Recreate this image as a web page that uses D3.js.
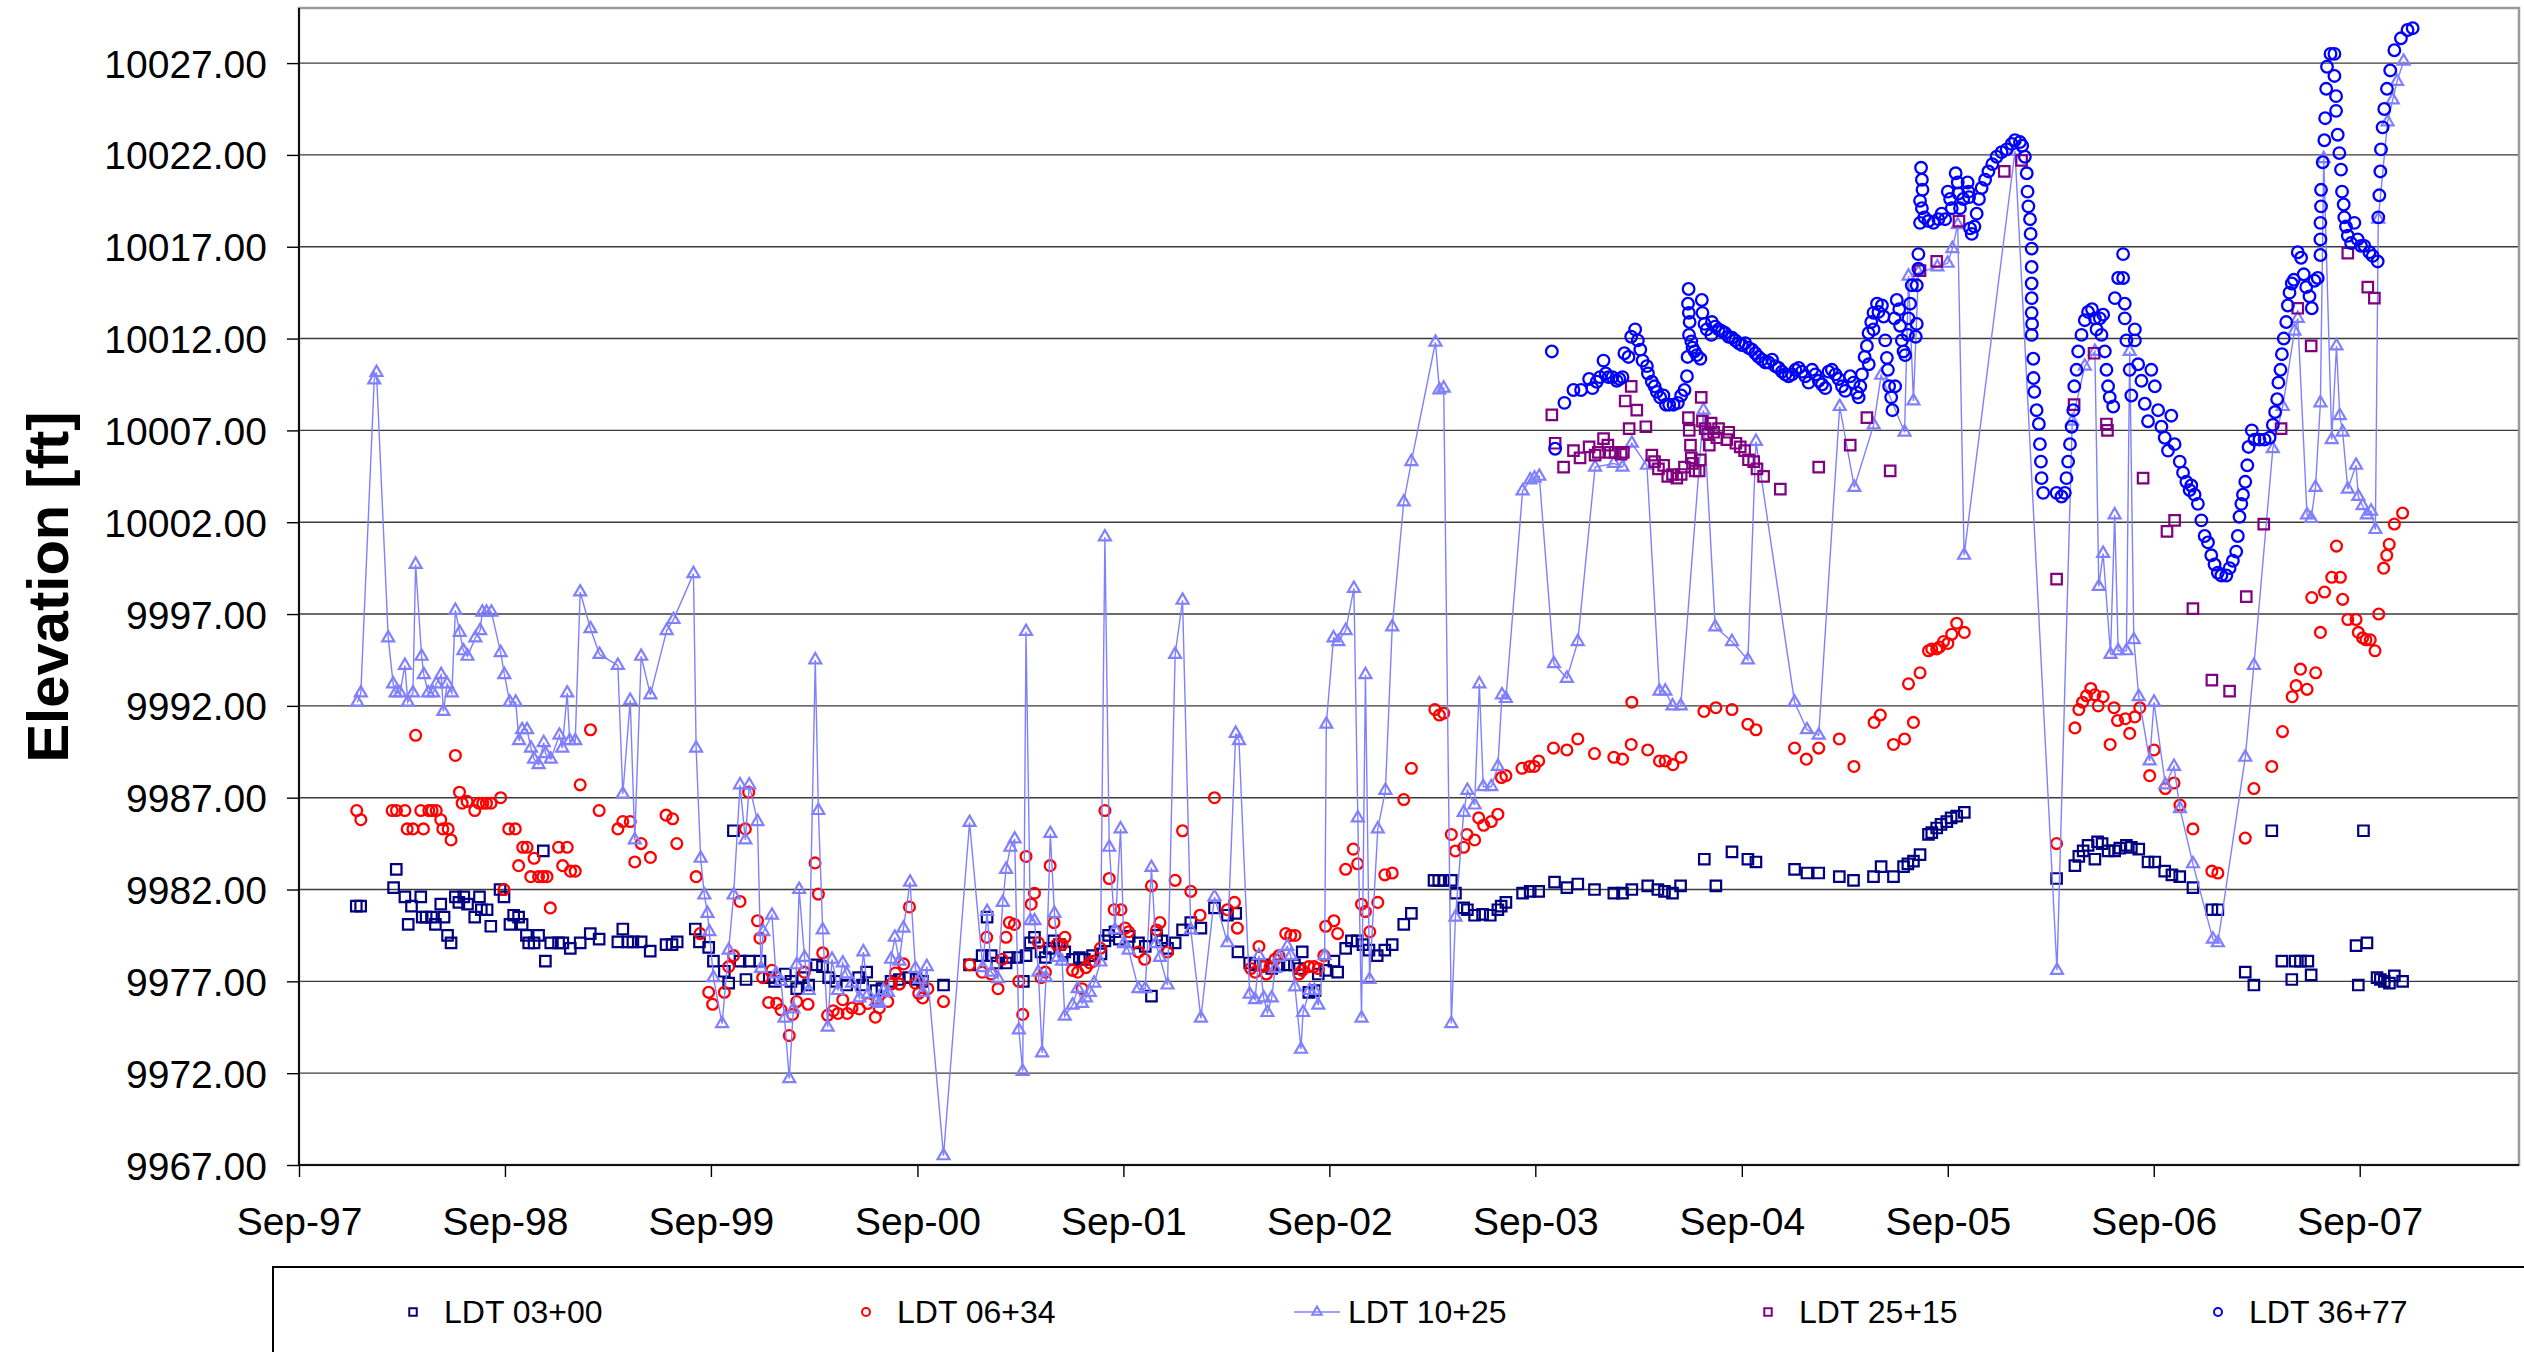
<!DOCTYPE html>
<html>
<head>
<meta charset="utf-8">
<script src="https://cdn.jsdelivr.net/npm/d3@7"></script>
<style>
  html, body { margin: 0; padding: 0; background: #ffffff; }
  svg { display: block; }
  text { font-family: "Liberation Sans", Arial, Helvetica, sans-serif; }
</style>
</head>
<body>
<svg id="chart" width="2524" height="1352"></svg>
<script>
// Water level elevations per piezometer, [decimal year, elevation in ft]

const ldt0300 = [
  [1997.944,9981.1],[1997.965,9981.1],[1998.125,9982.1],[1998.138,9983.1],[1998.18,9981.6],[1998.196,9980.1],
  [1998.212,9981.1],[1998.257,9981.6],[1998.264,9980.5],[1998.283,9980.5],[1998.309,9980.5],[1998.328,9980.1],
  [1998.354,9981.2],[1998.37,9980.5],[1998.387,9979.5],[1998.404,9979.1],[1998.425,9981.6],[1998.442,9981.3],
  [1998.466,9981.6],[1998.484,9981.2],[1998.519,9980.5],[1998.542,9981.6],[1998.551,9980.9],[1998.579,9980.9],
  [1998.597,9980.0],[1998.642,9982.0],[1998.661,9981.6],[1998.69,9980.1],[1998.708,9980.6],[1998.732,9980.5],
  [1998.749,9980.1],[1998.77,9979.5],[1998.781,9979.1],[1998.807,9979.1],[1998.829,9979.5],[1998.852,9984.1],
  [1998.862,9978.1],[1998.888,9979.1],[1998.926,9979.1],[1998.947,9979.1],[1998.983,9978.8],[1999.031,9979.1],
  [1999.08,9979.6],[1999.123,9979.3],[1999.214,9979.15],[1999.238,9979.85],[1999.262,9979.15],[1999.287,9979.15],
  [1999.327,9979.15],[1999.371,9978.65],[1999.448,9979.0],[1999.477,9979.0],[1999.502,9979.15],[1999.59,9979.85],
  [1999.61,9979.15],[1999.655,9978.85],[1999.678,9978.1],[1999.731,9977.55],[1999.752,9976.9],[1999.775,9985.2],
  [1999.807,9978.1],[1999.836,9977.1],[1999.852,9978.1],[1999.904,9978.1],[1999.949,9977.2],[1999.975,9977.0],
  [2000.027,9977.4],[2000.054,9977.0],[2000.082,9976.6],[2000.111,9977.2],[2000.14,9976.8],[2000.178,9977.9],
  [2000.207,9977.8],[2000.237,9977.2],[2000.272,9977.0],[2000.324,9976.8],[2000.382,9977.2],[2000.401,9976.8],
  [2000.421,9977.5],[2000.466,9976.5],[2000.495,9976.6],[2000.539,9977.0],[2000.579,9977.1],[2000.624,9977.2],
  [2000.66,9977.1],[2000.692,9977.0],[2000.793,9976.8],[2000.919,9977.9],[2000.98,9978.4],[2001.004,9980.5],
  [2001.024,9978.4],[2001.051,9978.0],[2001.096,9978.0],[2001.112,9978.3],[2001.153,9978.3],[2001.18,9977.0],
  [2001.193,9978.4],[2001.213,9979.1],[2001.234,9979.4],[2001.266,9978.6],[2001.287,9978.3],[2001.306,9978.8],
  [2001.327,9979.2],[2001.355,9979.0],[2001.381,9978.6],[2001.419,9978.2],[2001.452,9978.3],[2001.476,9978.2],
  [2001.516,9978.4],[2001.557,9978.5],[2001.576,9979.2],[2001.594,9979.5],[2001.625,9979.7],[2001.646,9979.3],
  [2001.694,9979.45],[2001.739,9979.1],[2001.772,9978.9],[2001.802,9976.2],[2001.827,9979.5],[2001.852,9979.2],
  [2001.88,9978.8],[2001.917,9979.1],[2001.953,9979.8],[2001.993,9980.2],[2002.042,9979.9],[2002.108,9981.0],
  [2002.171,9980.6],[2002.211,9980.7],[2002.222,9978.6],[2002.279,9978.0],[2002.305,9977.9],[2002.344,9977.9],
  [2002.386,9977.7],[2002.421,9977.9],[2002.462,9977.9],[2002.496,9977.9],[2002.521,9977.7],[2002.534,9978.6],
  [2002.566,9976.4],[2002.596,9976.5],[2002.612,9977.4],[2002.648,9977.6],[2002.688,9978.1],[2002.706,9977.5],
  [2002.745,9978.8],[2002.773,9979.2],[2002.801,9979.2],[2002.829,9979.0],[2002.858,9978.7],[2002.898,9978.4],
  [2002.935,9978.7],[2002.971,9979.0],[2003.027,9980.1],[2003.064,9980.7],[2003.174,9982.5],[2003.197,9982.5],
  [2003.221,9982.5],[2003.258,9982.5],[2003.278,9981.8],[2003.318,9981.0],[2003.336,9980.9],[2003.371,9980.6],
  [2003.41,9980.65],[2003.447,9980.6],[2003.484,9980.9],[2003.5,9981.1],[2003.523,9981.3],[2003.604,9981.8],
  [2003.641,9981.9],[2003.682,9981.9],[2003.759,9982.4],[2003.819,9982.1],[2003.872,9982.3],[2003.953,9982.0],
  [2004.047,9981.8],[2004.089,9981.8],[2004.134,9982.0],[2004.211,9982.2],[2004.26,9982.0],[2004.292,9981.9],
  [2004.331,9981.8],[2004.37,9982.2],[2004.485,9983.65],[2004.541,9982.2],[2004.619,9984.05],[2004.696,9983.65],
  [2004.735,9983.5],[2004.922,9983.1],[2004.982,9982.9],[2005.039,9982.9],[2005.139,9982.7],[2005.208,9982.5],
  [2005.305,9982.7],[2005.342,9983.25],[2005.402,9982.7],[2005.451,9983.25],[2005.472,9983.4],[2005.499,9983.55],
  [2005.531,9983.9],[2005.572,9985.0],[2005.588,9985.1],[2005.612,9985.35],[2005.633,9985.55],[2005.661,9985.7],
  [2005.682,9985.9],[2005.709,9986.0],[2005.746,9986.2],[2006.194,9982.6],[2006.283,9983.3],[2006.302,9983.8],
  [2006.323,9984.1],[2006.347,9984.4],[2006.38,9983.65],[2006.393,9984.6],[2006.415,9984.5],[2006.444,9984.1],
  [2006.476,9984.1],[2006.501,9984.25],[2006.533,9984.4],[2006.557,9984.3],[2006.593,9984.2],[2006.638,9983.5],
  [2006.671,9983.5],[2006.719,9983.0],[2006.754,9982.8],[2006.792,9982.7],[2006.856,9982.1],[2006.948,9980.9],
  [2006.977,9980.9],[2007.11,9977.5],[2007.152,9976.8],[2007.239,9985.2],[2007.288,9978.1],[2007.336,9977.1],
  [2007.352,9978.1],[2007.378,9978.1],[2007.414,9978.1],[2007.43,9977.35],[2007.648,9978.95],[2007.659,9976.8],
  [2007.684,9985.2],[2007.701,9979.1],[2007.75,9977.2],[2007.766,9977.1],[2007.785,9977.0],[2007.81,9976.9],
  [2007.834,9977.3],[2007.874,9977.0]
];

const ldt0634 = [
  [1997.946,9986.3],[1997.966,9985.8],[1998.118,9986.3],[1998.139,9986.3],[1998.18,9986.3],[1998.191,9985.3],
  [1998.219,9985.3],[1998.232,9990.4],[1998.257,9986.3],[1998.27,9985.3],[1998.296,9986.3],[1998.312,9986.3],
  [1998.332,9986.3],[1998.354,9985.8],[1998.364,9985.3],[1998.39,9985.3],[1998.404,9984.7],[1998.425,9989.3],
  [1998.445,9987.3],[1998.458,9986.7],[1998.482,9986.8],[1998.519,9986.3],[1998.539,9986.7],[1998.558,9986.7],
  [1998.576,9986.7],[1998.598,9986.7],[1998.645,9987.0],[1998.661,9982.0],[1998.684,9985.3],[1998.716,9985.3],
  [1998.732,9983.3],[1998.752,9984.3],[1998.773,9984.3],[1998.791,9982.7],[1998.807,9983.7],[1998.829,9982.7],
  [1998.85,9982.7],[1998.87,9982.7],[1998.886,9981.0],[1998.926,9984.3],[1998.946,9983.3],[1998.968,9984.3],
  [1998.984,9983.0],[1999.007,9983.0],[1999.031,9987.7],[1999.081,9990.7],[1999.123,9986.3],[1999.214,9985.3],
  [1999.238,9985.7],[1999.274,9985.7],[1999.296,9983.5],[1999.327,9984.5],[1999.372,9983.75],[1999.448,9986.05],
  [1999.48,9985.85],[1999.5,9984.5],[1999.594,9982.7],[1999.613,9979.6],[1999.655,9976.4],[1999.674,9975.75],
  [1999.731,9976.4],[1999.752,9977.8],[1999.776,9978.4],[1999.807,9981.35],[1999.833,9985.3],[1999.849,9987.3],
  [1999.892,9980.3],[1999.904,9979.35],[1999.917,9977.2],[1999.946,9975.85],[1999.962,9977.6],[1999.985,9975.8],
  [2000.006,9975.45],[2000.046,9974.05],[2000.062,9975.2],[2000.082,9975.9],[2000.119,9977.5],[2000.137,9975.75],
  [2000.171,9983.45],[2000.187,9981.75],[2000.208,9978.55],[2000.232,9975.15],[2000.259,9975.4],[2000.282,9975.25],
  [2000.305,9976.0],[2000.327,9975.25],[2000.35,9975.55],[2000.386,9975.5],[2000.426,9975.8],[2000.463,9975.05],
  [2000.482,9975.55],[2000.523,9975.9],[2000.539,9976.85],[2000.56,9977.45],[2000.579,9976.85],[2000.6,9977.95],
  [2000.628,9981.05],[2000.657,9976.9],[2000.673,9976.35],[2000.692,9976.1],[2000.717,9976.6],[2000.793,9975.9],
  [2000.919,9977.9],[2000.98,9977.5],[2001.002,9979.4],[2001.024,9977.4],[2001.057,9976.6],[2001.077,9978.2],
  [2001.096,9979.4],[2001.112,9980.2],[2001.137,9980.1],[2001.158,9977.0],[2001.177,9975.2],[2001.193,9983.8],
  [2001.218,9981.2],[2001.234,9981.8],[2001.253,9979.1],[2001.266,9977.2],[2001.287,9977.5],[2001.31,9983.3],
  [2001.329,9980.2],[2001.342,9979.0],[2001.368,9979.0],[2001.382,9979.4],[2001.419,9977.6],[2001.444,9977.5],
  [2001.465,9976.6],[2001.484,9977.75],[2001.503,9978.0],[2001.521,9978.1],[2001.554,9978.8],[2001.576,9986.3],
  [2001.597,9982.6],[2001.621,9980.9],[2001.654,9980.9],[2001.675,9979.9],[2001.691,9979.7],[2001.739,9978.6],
  [2001.769,9978.2],[2001.802,9982.2],[2001.827,9979.8],[2001.843,9980.2],[2001.88,9978.6],[2001.917,9982.5],
  [2001.953,9985.2],[2001.993,9981.9],[2002.038,9980.6],[2002.108,9987.0],[2002.171,9980.9],[2002.205,9981.3],
  [2002.219,9979.9],[2002.284,9977.7],[2002.305,9977.5],[2002.324,9978.9],[2002.344,9977.8],[2002.36,9977.4],
  [2002.378,9977.8],[2002.402,9978.2],[2002.421,9978.4],[2002.454,9979.6],[2002.478,9979.5],[2002.499,9979.5],
  [2002.518,9977.4],[2002.534,9977.6],[2002.566,9977.8],[2002.591,9977.8],[2002.612,9977.7],[2002.639,9978.4],
  [2002.648,9980.0],[2002.688,9980.3],[2002.706,9979.6],[2002.745,9983.1],[2002.782,9984.2],[2002.803,9983.4],
  [2002.822,9981.2],[2002.841,9980.8],[2002.862,9979.7],[2002.901,9981.3],[2002.935,9982.8],[2002.971,9982.9],
  [2003.027,9986.9],[2003.064,9988.6],[2003.178,9991.8],[2003.2,9991.5],[2003.221,9991.6],[2003.258,9985.0],
  [2003.278,9984.1],[2003.318,9984.3],[2003.334,9985.0],[2003.371,9984.7],[2003.391,9985.9],[2003.415,9985.5],
  [2003.452,9985.7],[2003.484,9986.1],[2003.501,9988.1],[2003.523,9988.2],[2003.601,9988.6],[2003.638,9988.7],
  [2003.661,9988.7],[2003.682,9989.0],[2003.754,9989.7],[2003.819,9989.6],[2003.872,9990.2],[2003.953,9989.4],
  [2004.047,9989.2],[2004.089,9989.1],[2004.131,9989.9],[2004.134,9992.2],[2004.211,9989.6],[2004.268,9989.0],
  [2004.296,9989.0],[2004.333,9988.8],[2004.372,9989.2],[2004.483,9991.7],[2004.541,9991.9],[2004.619,9991.8],
  [2004.696,9991.0],[2004.735,9990.7],[2004.922,9989.7],[2004.979,9989.1],[2005.039,9989.7],[2005.139,9990.2],
  [2005.21,9988.7],[2005.308,9991.1],[2005.338,9991.5],[2005.402,9989.9],[2005.456,9990.2],[2005.475,9993.2],
  [2005.499,9991.1],[2005.531,9993.8],[2005.572,9995.0],[2005.588,9995.1],[2005.612,9995.1],[2005.625,9995.2],
  [2005.645,9995.5],[2005.666,9995.4],[2005.685,9995.9],[2005.709,9996.5],[2005.746,9996.0],[2006.194,9984.5],
  [2006.283,9990.8],[2006.302,9991.8],[2006.32,9992.2],[2006.339,9992.55],[2006.36,9992.95],[2006.38,9992.6],
  [2006.396,9992.0],[2006.42,9992.5],[2006.454,9989.9],[2006.473,9991.9],[2006.49,9991.2],[2006.528,9991.3],
  [2006.549,9990.5],[2006.574,9991.4],[2006.598,9991.9],[2006.646,9988.2],[2006.667,9989.6],[2006.722,9987.5],
  [2006.764,9987.8],[2006.793,9986.6],[2006.856,9985.3],[2006.948,9983.0],[2006.977,9982.9],[2007.11,9984.8],
  [2007.152,9987.5],[2007.239,9988.7],[2007.291,9990.6],[2007.338,9992.5],[2007.357,9993.1],[2007.378,9994.0],
  [2007.41,9992.9],[2007.433,9997.9],[2007.452,9993.8],[2007.475,9996.0],[2007.495,9998.2],[2007.53,9999.0],
  [2007.553,10000.7],[2007.572,9999.0],[2007.583,9997.8],[2007.608,9996.7],[2007.648,9996.7],[2007.659,9996.0],
  [2007.68,9995.7],[2007.696,9995.6],[2007.717,9995.6],[2007.74,9995.0],[2007.758,9997.0],[2007.782,9999.5],
  [2007.797,10000.2],[2007.809,10000.8],[2007.834,10001.9],[2007.874,10002.5]
];

const ldt1025 = [
  [1997.949,9992.2],[1997.966,9992.7],[1998.031,10009.75],[1998.042,10010.15],[1998.099,9995.7],[1998.123,9993.2],
  [1998.135,9992.7],[1998.156,9992.7],[1998.18,9994.2],[1998.194,9992.2],[1998.219,9992.7],[1998.232,9999.7],
  [1998.261,9994.7],[1998.272,9993.7],[1998.293,9992.7],[1998.317,9992.7],[1998.332,9993.2],[1998.356,9993.7],
  [1998.367,9991.7],[1998.385,9993.2],[1998.408,9992.7],[1998.425,9997.2],[1998.446,9996.0],[1998.464,9995.0],
  [1998.484,9994.7],[1998.522,9995.7],[1998.545,9996.1],[1998.556,9997.1],[1998.576,9997.1],[1998.6,9997.1],
  [1998.645,9994.9],[1998.663,9993.7],[1998.689,9992.2],[1998.718,9992.2],[1998.734,9990.1],[1998.749,9990.7],
  [1998.773,9990.7],[1998.792,9989.7],[1998.807,9989.1],[1998.829,9988.8],[1998.854,9990.0],[1998.863,9989.4],
  [1998.888,9989.1],[1998.93,9990.4],[1998.944,9989.7],[1998.968,9992.7],[1998.98,9990.1],[1999.007,9990.1],
  [1999.031,9998.2],[1999.081,9996.2],[1999.125,9994.8],[1999.214,9994.2],[1999.238,9987.2],[1999.274,9992.3],
  [1999.296,9984.7],[1999.327,9994.7],[1999.372,9992.6],[1999.451,9996.1],[1999.484,9996.7],[1999.581,9999.2],
  [1999.594,9989.7],[1999.616,9983.7],[1999.634,9981.7],[1999.649,9980.7],[1999.658,9979.7],[1999.678,9977.2],
  [1999.72,9974.7],[1999.752,9978.7],[1999.776,9981.7],[1999.807,9987.7],[1999.833,9984.7],[1999.852,9987.7],
  [1999.892,9985.7],[1999.909,9977.7],[1999.92,9979.7],[1999.962,9980.6],[1999.981,9977.4],[2000.006,9977.0],
  [2000.023,9975.0],[2000.046,9971.7],[2000.066,9975.5],[2000.082,9977.9],[2000.094,9982.0],[2000.12,9978.3],
  [2000.14,9976.5],[2000.172,9994.5],[2000.187,9986.3],[2000.208,9979.8],[2000.232,9974.5],[2000.253,9978.2],
  [2000.282,9976.5],[2000.305,9978.0],[2000.324,9977.4],[2000.35,9976.9],[2000.386,9976.1],[2000.405,9978.6],
  [2000.428,9976.3],[2000.466,9975.9],[2000.482,9975.8],[2000.502,9976.5],[2000.524,9976.4],[2000.539,9978.2],
  [2000.557,9979.4],[2000.579,9978.1],[2000.599,9979.9],[2000.631,9982.4],[2000.657,9977.7],[2000.676,9977.1],
  [2000.692,9976.4],[2000.712,9977.8],[2000.793,9967.5],[2000.919,9985.65],[2000.983,9977.75],[2001.004,9980.8],
  [2001.025,9977.5],[2001.057,9977.15],[2001.08,9981.3],[2001.096,9983.1],[2001.117,9984.3],[2001.138,9984.75],
  [2001.158,9974.35],[2001.177,9972.1],[2001.193,9996.05],[2001.214,9980.3],[2001.234,9980.3],[2001.253,9977.5],
  [2001.271,9973.1],[2001.29,9977.2],[2001.311,9985.05],[2001.331,9980.7],[2001.347,9978.3],[2001.368,9978.1],
  [2001.381,9975.1],[2001.419,9975.7],[2001.444,9976.6],[2001.465,9975.8],[2001.484,9976.1],[2001.503,9976.4],
  [2001.524,9976.9],[2001.554,9978.05],[2001.576,10001.2],[2001.597,9984.3],[2001.625,9979.8],[2001.652,9985.3],
  [2001.668,9979.05],[2001.691,9978.7],[2001.739,9976.6],[2001.772,9976.6],[2001.802,9983.2],[2001.823,9979.05],
  [2001.843,9978.3],[2001.88,9976.8],[2001.917,9994.8],[2001.953,9997.75],[2001.993,9979.8],[2002.042,9975.0],
  [2002.108,9981.6],[2002.171,9979.1],[2002.211,9990.5],[2002.227,9990.1],[2002.279,9976.3],[2002.305,9976.0],
  [2002.324,9978.4],[2002.347,9976.1],[2002.365,9975.3],[2002.386,9976.1],[2002.402,9977.7],[2002.421,9978.3],
  [2002.462,9978.9],[2002.478,9978.4],[2002.499,9976.7],[2002.528,9973.3],[2002.538,9975.3],[2002.57,9976.5],
  [2002.593,9976.5],[2002.612,9975.7],[2002.643,9978.4],[2002.651,9991.0],[2002.686,9995.7],[2002.709,9995.5],
  [2002.745,9996.1],[2002.785,9998.4],[2002.804,9985.9],[2002.822,9975.0],[2002.841,9993.7],[2002.861,9977.1],
  [2002.901,9985.3],[2002.938,9987.4],[2002.971,9996.3],[2003.027,10003.1],[2003.064,10005.3],[2003.181,10011.8],
  [2003.2,10009.2],[2003.221,10009.3],[2003.258,9974.7],[2003.278,9980.5],[2003.318,9986.2],[2003.336,9987.4],
  [2003.371,9986.6],[2003.394,9993.2],[2003.413,9987.6],[2003.452,9987.6],[2003.484,9988.7],[2003.504,9992.6],
  [2003.523,9992.4],[2003.604,10003.7],[2003.641,10004.3],[2003.662,10004.4],[2003.685,10004.5],[2003.756,9994.3],
  [2003.819,9993.5],[2003.872,9995.5],[2003.956,10005.0],[2004.047,10005.2],[2004.089,10005.0],[2004.134,10006.3],
  [2004.207,10005.1],[2004.268,9992.8],[2004.296,9992.8],[2004.331,9992.0],[2004.371,9992.0],[2004.481,10008.1],
  [2004.538,9996.3],[2004.619,9995.5],[2004.696,9994.5],[2004.735,10006.4],[2004.922,9992.2],[2004.982,9990.7],
  [2005.039,9990.4],[2005.141,10008.3],[2005.212,10003.9],[2005.306,10007.3],[2005.342,10010.0],[2005.456,10006.9],
  [2005.475,10015.4],[2005.499,10008.6],[2005.523,10015.6],[2005.615,10015.9],[2005.665,10016.1],[2005.688,10016.9],
  [2005.714,10018.2],[2005.745,10000.2],[2005.992,10022.2],[2006.196,9977.6],[2006.27,10007.5],[2006.331,10010.5],
  [2006.38,10011.3],[2006.399,9998.5],[2006.42,10000.3],[2006.456,9994.8],[2006.476,10002.4],[2006.493,9995.0],
  [2006.533,9995.0],[2006.549,10011.3],[2006.569,9995.6],[2006.593,9992.5],[2006.646,9989.0],[2006.667,9992.2],
  [2006.722,9987.7],[2006.764,9988.7],[2006.793,9986.4],[2006.856,9983.4],[2006.953,9979.3],[2006.977,9979.1],
  [2007.11,9989.2],[2007.152,9994.2],[2007.244,10006.0],[2007.292,10008.3],[2007.349,10012.4],[2007.365,10013.1],
  [2007.41,10002.4],[2007.43,10002.2],[2007.451,10003.9],[2007.475,10008.5],[2007.491,10021.8],[2007.53,10006.5],
  [2007.553,10011.6],[2007.569,10007.8],[2007.583,10006.9],[2007.608,10003.8],[2007.648,10005.1],[2007.659,10003.4],
  [2007.68,10002.9],[2007.701,10002.4],[2007.721,10002.6],[2007.742,10001.6],[2007.756,10018.5],[2007.801,10023.8],
  [2007.826,10025.0],[2007.847,10026.0],[2007.879,10027.1]
];

const ldt2515 = [
  [2003.746,10007.85],[2003.762,10006.3],[2003.803,10005.0],[2003.851,10005.9],[2003.883,10005.5],[2003.927,10006.1],
  [2003.956,10005.65],[2003.972,10005.8],[2003.997,10006.55],[2004.018,10006.2],[2004.029,10005.8],[2004.053,10005.8],
  [2004.082,10005.7],[2004.093,10005.8],[2004.102,10008.6],[2004.121,10007.1],[2004.131,10009.4],[2004.158,10008.1],
  [2004.202,10007.2],[2004.231,10005.65],[2004.244,10005.3],[2004.263,10004.9],[2004.288,10005.1],[2004.308,10004.5],
  [2004.331,10004.6],[2004.352,10004.4],[2004.373,10004.6],[2004.389,10005.0],[2004.408,10007.7],[2004.412,10007.0],
  [2004.418,10006.2],[2004.422,10005.5],[2004.428,10005.2],[2004.441,10004.8],[2004.46,10004.8],[2004.465,10005.4],
  [2004.47,10008.8],[2004.476,10007.5],[2004.489,10007.1],[2004.502,10006.8],[2004.509,10006.2],[2004.518,10007.4],
  [2004.53,10006.9],[2004.546,10006.6],[2004.554,10007.1],[2004.594,10006.5],[2004.603,10006.9],[2004.638,10006.3],
  [2004.659,10006.1],[2004.68,10005.9],[2004.699,10005.4],[2004.724,10005.3],[2004.74,10004.9],[2004.772,10004.5],
  [2004.853,10003.8],[2005.039,10005.0],[2005.192,10006.2],[2005.273,10007.7],[2005.386,10004.8],[2005.531,10015.7],
  [2005.612,10016.2],[2005.72,10018.4],[2005.94,10021.1],[2006.024,10021.7],[2006.194,9998.9],[2006.279,10008.4],
  [2006.376,10011.2],[2006.436,10007.35],[2006.441,10007.0],[2006.614,10004.4],[2006.73,10001.5],[2006.767,10002.1],
  [2006.856,9997.3],[2006.948,9993.4],[2007.034,9992.8],[2007.115,9997.95],[2007.2,10001.9],[2007.284,10007.1],
  [2007.365,10013.65],[2007.43,10011.6],[2007.608,10016.65],[2007.705,10014.8],[2007.737,10014.2]
];

const ldt3677 = [
  [2003.746,10011.3],[2003.762,10006.0],[2003.807,10008.5],[2003.851,10009.2],[2003.888,10009.2],[2003.927,10009.8],
  [2003.943,10009.3],[2003.964,10009.65],[2003.98,10009.9],[2003.997,10010.8],[2004.008,10010.1],[2004.021,10009.9],
  [2004.04,10009.9],[2004.061,10009.7],[2004.074,10009.8],[2004.089,10009.9],[2004.098,10011.2],[2004.118,10011.0],
  [2004.131,10012.1],[2004.15,10012.5],[2004.163,10011.9],[2004.175,10011.4],[2004.186,10010.8],[2004.207,10010.5],
  [2004.212,10010.1],[2004.231,10009.65],[2004.244,10009.4],[2004.255,10009.1],[2004.271,10008.8],[2004.287,10008.9],
  [2004.299,10008.4],[2004.315,10008.4],[2004.336,10008.4],[2004.357,10008.5],[2004.373,10008.9],[2004.389,10009.2],
  [2004.401,10009.95],[2004.404,10011.0],[2004.406,10013.9],[2004.409,10014.7],[2004.41,10013.4],[2004.414,10012.9],
  [2004.411,10012.2],[2004.422,10011.85],[2004.428,10011.5],[2004.438,10011.3],[2004.449,10011.1],[2004.466,10010.9],
  [2004.473,10014.1],[2004.476,10013.4],[2004.486,10012.8],[2004.497,10012.5],[2004.519,10012.2],[2004.522,10012.9],
  [2004.538,10012.65],[2004.554,10012.5],[2004.57,10012.4],[2004.586,10012.3],[2004.603,10012.1],[2004.619,10012.05],
  [2004.635,10011.9],[2004.651,10011.75],[2004.667,10011.65],[2004.683,10011.75],[2004.699,10011.5],[2004.716,10011.4],
  [2004.732,10011.2],[2004.748,10011.0],[2004.764,10010.85],[2004.78,10010.7],[2004.796,10010.7],[2004.813,10010.85],
  [2004.829,10010.5],[2004.845,10010.4],[2004.861,10010.2],[2004.877,10010.05],[2004.893,10009.95],[2004.91,10010.05],
  [2004.926,10010.3],[2004.942,10010.4],[2004.958,10010.2],[2004.974,10009.95],[2004.99,10009.6],[2005.007,10010.3],
  [2005.023,10010.05],[2005.039,10009.7],[2005.055,10009.5],[2005.071,10009.3],[2005.087,10010.2],[2005.103,10010.3],
  [2005.12,10010.05],[2005.136,10009.8],[2005.152,10009.4],[2005.168,10009.15],[2005.192,10009.95],[2005.208,10009.6],
  [2005.225,10009.05],[2005.233,10008.8],[2005.241,10009.4],[2005.249,10010.05],[2005.262,10011.0],[2005.273,10011.6],
  [2005.281,10012.3],[2005.294,10012.9],[2005.305,10013.4],[2005.322,10013.9],[2005.282,10010.6],[2005.305,10012.5],
  [2005.329,10013.45],[2005.346,10013.8],[2005.354,10013.2],[2005.362,10011.9],[2005.37,10010.95],[2005.375,10010.3],
  [2005.381,10009.4],[2005.391,10008.8],[2005.397,10008.1],[2005.41,10009.4],[2005.407,10013.1],[2005.418,10014.1],
  [2005.43,10013.6],[2005.434,10012.7],[2005.443,10011.9],[2005.451,10011.3],[2005.459,10011.1],[2005.472,10012.2],
  [2005.475,10013.1],[2005.483,10013.9],[2005.491,10014.9],[2005.51,10012.1],[2005.515,10012.8],[2005.515,10014.9],
  [2005.523,10015.8],[2005.523,10016.6],[2005.536,10021.3],[2005.54,10020.65],[2005.543,10020.1],[2005.531,10019.5],
  [2005.54,10019.1],[2005.531,10018.3],[2005.552,10018.6],[2005.572,10018.4],[2005.596,10018.3],[2005.62,10018.5],
  [2005.636,10018.8],[2005.653,10018.5],[2005.666,10020.0],[2005.677,10019.6],[2005.685,10019.1],[2005.704,10021.0],
  [2005.714,10020.5],[2005.717,10019.9],[2005.725,10019.1],[2005.741,10019.6],[2005.762,10020.5],[2005.766,10020.0],
  [2005.769,10019.7],[2005.774,10018.0],[2005.782,10017.7],[2005.795,10018.1],[2005.806,10018.8],[2005.817,10019.6],
  [2005.83,10020.2],[2005.847,10020.65],[2005.863,10021.1],[2005.882,10021.5],[2005.903,10021.9],[2005.927,10022.15],
  [2005.952,10022.3],[2005.976,10022.6],[2005.992,10022.8],[2006.016,10022.7],[2006.027,10022.5],[2006.04,10021.9],
  [2006.049,10021.0],[2006.053,10020.0],[2006.057,10019.2],[2006.065,10018.5],[2006.068,10017.7],[2006.073,10016.9],
  [2006.073,10015.9],[2006.073,10015.0],[2006.073,10014.2],[2006.073,10013.4],[2006.075,10012.8],[2006.073,10012.2],
  [2006.081,10010.9],[2006.082,10009.85],[2006.086,10009.1],[2006.097,10008.1],[2006.108,10007.35],[2006.113,10006.25],
  [2006.118,10005.3],[2006.121,10004.4],[2006.129,10003.6],[2006.194,10003.6],[2006.218,10003.4],[2006.234,10003.6],
  [2006.242,10004.4],[2006.25,10005.3],[2006.259,10006.25],[2006.267,10007.2],[2006.275,10008.1],[2006.28,10009.4],
  [2006.291,10010.3],[2006.299,10011.3],[2006.315,10012.2],[2006.331,10013.0],[2006.347,10013.45],[2006.366,10013.6],
  [2006.38,10013.1],[2006.388,10012.5],[2006.404,10013.1],[2006.42,10013.3],[2006.412,10012.2],[2006.428,10011.3],
  [2006.436,10010.3],[2006.444,10009.4],[2006.452,10008.8],[2006.469,10008.3],[2006.477,10014.2],[2006.493,10015.3],
  [2006.517,10016.6],[2006.517,10015.3],[2006.525,10013.9],[2006.525,10013.1],[2006.533,10011.9],[2006.549,10010.3],
  [2006.557,10008.9],[2006.574,10012.5],[2006.574,10011.9],[2006.59,10010.6],[2006.606,10009.7],[2006.622,10008.45],
  [2006.638,10007.5],[2006.654,10010.3],[2006.671,10009.4],[2006.687,10008.1],[2006.703,10007.2],[2006.719,10006.6],
  [2006.735,10005.9],[2006.751,10007.8],[2006.767,10006.25],[2006.792,10005.3],[2006.808,10004.7],[2006.824,10004.2],
  [2006.84,10003.75],[2006.848,10004.0],[2006.864,10003.5],[2006.88,10003.0],[2006.897,10002.1],[2006.913,10001.25],
  [2006.929,10000.9],[2006.945,10000.2],[2006.961,9999.7],[2006.977,9999.25],[2006.994,9999.1],[2007.018,9999.1],
  [2007.034,9999.5],[2007.05,9999.9],[2007.066,10000.4],[2007.074,10001.25],[2007.082,10002.3],[2007.091,10003.0],
  [2007.099,10003.5],[2007.11,10004.2],[2007.12,10005.1],[2007.126,10006.1],[2007.142,10007.0],[2007.155,10006.5],
  [2007.179,10006.5],[2007.204,10006.5],[2007.228,10006.6],[2007.244,10007.3],[2007.255,10008.0],[2007.265,10008.7],
  [2007.271,10009.6],[2007.281,10010.3],[2007.288,10011.15],[2007.297,10012.0],[2007.309,10012.9],[2007.317,10013.8],
  [2007.325,10014.5],[2007.336,10015.0],[2007.346,10015.2],[2007.365,10016.7],[2007.381,10016.4],[2007.394,10015.5],
  [2007.406,10014.8],[2007.422,10014.3],[2007.433,10013.65],[2007.446,10015.15],[2007.462,10015.3],[2007.475,10016.55],
  [2007.475,10017.4],[2007.475,10018.3],[2007.478,10019.2],[2007.478,10020.1],[2007.486,10021.6],[2007.494,10022.8],
  [2007.498,10024.0],[2007.503,10025.6],[2007.507,10026.8],[2007.524,10027.5],[2007.543,10027.5],[2007.543,10026.3],
  [2007.551,10025.2],[2007.551,10024.4],[2007.559,10023.1],[2007.567,10022.1],[2007.575,10021.2],[2007.58,10020.0],
  [2007.588,10019.3],[2007.591,10018.6],[2007.599,10018.1],[2007.608,10017.6],[2007.624,10017.2],[2007.64,10018.3],
  [2007.656,10017.4],[2007.672,10017.05],[2007.688,10017.05],[2007.713,10016.7],[2007.729,10016.5],[2007.753,10016.2],
  [2007.756,10018.6],[2007.761,10019.8],[2007.766,10021.1],[2007.769,10022.3],[2007.777,10023.5],[2007.785,10024.5],
  [2007.798,10025.6],[2007.814,10026.6],[2007.834,10027.7],[2007.866,10028.35],[2007.898,10028.8],[2007.923,10028.9]
];

const seriesNames = ["LDT 03+00", "LDT 06+34", "LDT 10+25", "LDT 25+15", "LDT 36+77"];
const yTickValues = d3.range(9967, 10028, 5);      // 9967.00 ... 10027.00
const xTickYears = d3.range(1997, 2008);           // Sep-97 ... Sep-07
const yDomain = [9967, 10030];
const xStartYear = 1997 + 243 / 365;               // 1 Sep 1997
const xEndYear = 2008.438;

// decimal year -> Date
function yearToDate(dy) {
  const yr = Math.floor(dy);
  const a = new Date(yr, 0, 1), b = new Date(yr + 1, 0, 1);
  return new Date(+a + (dy - yr) * (b - a));
}

const svg = d3.select("#chart");
const plot = { left: 299, right: 2519, top: 8, bottom: 1165 };

const x = d3.scaleTime()
  .domain([yearToDate(xStartYear), yearToDate(xEndYear)])
  .range([plot.left, plot.right]);
const y = d3.scaleLinear().domain(yDomain).range([plot.bottom, plot.top]);

// horizontal gridlines
svg.append("g")
  .selectAll("line")
  .data(yTickValues)
  .join("line")
  .attr("x1", plot.left).attr("x2", plot.right)
  .attr("y1", d => y(d)).attr("y2", d => y(d))
  .attr("stroke", "#3a3a3a").attr("stroke-width", 1.4);

// plot area frame (top/right in grey)
svg.append("rect")
  .attr("x", plot.left).attr("y", plot.top)
  .attr("width", plot.right - plot.left).attr("height", plot.bottom - plot.top)
  .attr("fill", "none").attr("stroke", "#9a9a9a").attr("stroke-width", 2.5);

// y axis
const yAxis = svg.append("g")
  .attr("transform", `translate(${plot.left},0)`)
  .call(d3.axisLeft(y).tickValues(yTickValues).tickFormat(d3.format(".2f")).tickSize(12).tickPadding(20));
yAxis.select(".domain").remove();
yAxis.selectAll(".tick line").attr("stroke", "#000").attr("stroke-width", 1.4);
yAxis.selectAll(".tick text")
  .attr("dy", "0.36em")
  .attr("font-size", 39)
  .attr("font-family", "'Liberation Sans', Arial, sans-serif")
  .attr("fill", "#000");

// x axis
const xAxis = svg.append("g")
  .attr("transform", `translate(0,${plot.bottom})`)
  .call(d3.axisBottom(x)
    .tickValues(xTickYears.map(yr => new Date(yr, 8, 1)))
    .tickFormat(d3.timeFormat("%b-%y"))
    .tickSize(12));
xAxis.select(".domain").remove();
xAxis.selectAll(".tick line").attr("stroke", "#000").attr("stroke-width", 1.4);
xAxis.selectAll(".tick text")
  .attr("y", 70).attr("dy", null)
  .attr("font-size", 39)
  .attr("font-family", "'Liberation Sans', Arial, sans-serif")
  .attr("fill", "#000");

// axis lines
svg.append("line").attr("x1", plot.left).attr("x2", plot.left)
  .attr("y1", plot.top).attr("y2", plot.bottom + 1)
  .attr("stroke", "#111").attr("stroke-width", 2);
svg.append("line").attr("x1", plot.left - 1).attr("x2", plot.right)
  .attr("y1", plot.bottom).attr("y2", plot.bottom)
  .attr("stroke", "#111").attr("stroke-width", 2);

// y axis title
svg.append("text")
  .attr("transform", "translate(68,587) rotate(-90)")
  .attr("text-anchor", "middle")
  .attr("font-size", 58)
  .attr("font-weight", "bold")
  .attr("fill", "#000")
  .text("Elevation [ft]");

// marker painters
const squarePath = d3.symbol().type(d3.symbolSquare).size(110)();
const trianglePath = d3.symbol().type(d3.symbolTriangle).size(62)();

function drawSquares(g, data, color) {
  g.selectAll("path.m").data(data).join("path").attr("class", "m")
    .attr("d", squarePath)
    .attr("transform", d => `translate(${x(yearToDate(d[0]))},${y(d[1])})`)
    .attr("fill", "none").attr("stroke", color).attr("stroke-width", 2.2);
}
function drawCircles(g, data, color, r) {
  g.selectAll("circle").data(data).join("circle")
    .attr("cx", d => x(yearToDate(d[0]))).attr("cy", d => y(d[1])).attr("r", r)
    .attr("fill", "none").attr("stroke", color).attr("stroke-width", 2.3);
}

const colors = ["#000080", "#FF0000", "#8080FF", "#800080", "#0000FF"];

// LDT 03+00
drawSquares(svg.append("g"), ldt0300, colors[0]);
// LDT 06+34
drawCircles(svg.append("g"), ldt0634, colors[1], 5.4);
// LDT 10+25: line with triangle markers
const g1025 = svg.append("g");
g1025.append("path")
  .datum(ldt1025)
  .attr("d", d3.line().x(d => x(yearToDate(d[0]))).y(d => y(d[1])))
  .attr("fill", "none").attr("stroke", colors[2]).attr("stroke-width", 1.4);
g1025.selectAll("path.m").data(ldt1025).join("path").attr("class", "m")
  .attr("d", trianglePath)
  .attr("transform", d => `translate(${x(yearToDate(d[0]))},${y(d[1])})`)
  .attr("fill", "none").attr("stroke", colors[2]).attr("stroke-width", 2.2);
// LDT 25+15
drawSquares(svg.append("g"), ldt2515, colors[3]);
// LDT 36+77
drawCircles(svg.append("g"), ldt3677, colors[4], 5.8);

// legend
const legend = svg.append("g");
legend.append("rect")
  .attr("x", 273).attr("y", 1267).attr("width", 2400).attr("height", 200)
  .attr("fill", "#fff").attr("stroke", "#000").attr("stroke-width", 2);
const legendMarkerX = [413, 866, 1317, 1768, 2218];
const legendY = 1312;
seriesNames.forEach((name, i) => {
  const mx = legendMarkerX[i];
  const item = legend.append("g");
  if (i === 0 || i === 3) {
    item.append("path").attr("d", d3.symbol().type(d3.symbolSquare).size(56)())
      .attr("transform", `translate(${mx},${legendY})`)
      .attr("fill", "none").attr("stroke", colors[i]).attr("stroke-width", 2);
  } else if (i === 2) {
    item.append("line").attr("x1", mx - 23).attr("x2", mx + 23)
      .attr("y1", legendY).attr("y2", legendY)
      .attr("stroke", colors[i]).attr("stroke-width", 1.4);
    item.append("path").attr("d", d3.symbol().type(d3.symbolTriangle).size(40)())
      .attr("transform", `translate(${mx},${legendY})`)
      .attr("fill", "none").attr("stroke", colors[i]).attr("stroke-width", 2);
  } else {
    item.append("circle").attr("cx", mx).attr("cy", legendY).attr("r", 4)
      .attr("fill", "none").attr("stroke", colors[i]).attr("stroke-width", 2);
  }
  item.append("text")
    .attr("x", mx + 31).attr("y", legendY + 11)
    .attr("font-size", 32).attr("fill", "#000")
    .text(name);
});
</script>
</body>
</html>
